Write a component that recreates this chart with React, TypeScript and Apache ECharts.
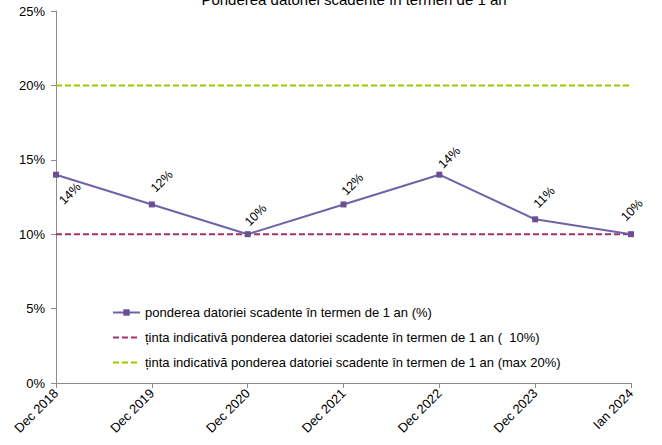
import React, { useEffect, useRef } from "react";
import * as echarts from "echarts";

const categories = ["Dec 2018", "Dec 2019", "Dec 2020", "Dec 2021", "Dec 2022", "Dec 2023", "Ian 2024"];
const pondereaValues = [14, 12, 10, 12, 14, 11, 10];
const tintaMin = [10, 10, 10, 10, 10, 10, 10];
const tintaMax = [20, 20, 20, 20, 20, 20, 20];
const yTicks = [0, 5, 10, 15, 20, 25];

const chartTitle = "Ponderea datoriei scadente în termen de 1 an";
const seriesNames = [
  "ponderea datoriei scadente în termen de 1 an (%)",
  "ținta indicativă ponderea datoriei scadente în termen de 1 an (  10%)",
  "ținta indicativă ponderea datoriei scadente în termen de 1 an (max 20%)",
];

const FONT = "'Liberation Sans', Arial, sans-serif";

// convert a screen offset into the rotated (45deg) label frame
function rotOffset(dx: number, dy: number): [number, number] {
  const k = Math.SQRT1_2;
  return [(dx - dy) * k, (dx + dy) * k];
}

export default function App() {
  const ref = useRef<HTMLDivElement>(null);
  useEffect(() => {
    if (!ref.current) return;
    const chart = echarts.init(ref.current, undefined, { renderer: "svg" });
    const labelScreenOffsets: [number, number][] = [
      [14, 19],
      [10, -23],
      [8, -19],
      [9, -20],
      [10, -17],
      [9, -22],
      [1, -24],
    ];
    chart.setOption({
      animation: false,
      textStyle: { fontFamily: FONT },
      graphic: [
        {
          type: "text",
          x: 354,
          y: 7,
          silent: true,
          style: {
            text: chartTitle,
            fontSize: 15,
            fontFamily: FONT,
            fill: "#000",
            align: "center",
            verticalAlign: "bottom",
          },
        },
      ],
      grid: { left: 56, right: 31, top: 11, bottom: 62, containLabel: false },
      legend: {
        orient: "vertical",
        left: 107,
        top: 300,
        itemWidth: 27,
        itemHeight: 8,
        itemGap: 10,
        textStyle: { fontSize: 13, lineHeight: 15, color: "#000", fontFamily: FONT },
        data: [
          { name: seriesNames[0] },
          { name: seriesNames[1], itemStyle: { opacity: 0 } },
          { name: seriesNames[2], itemStyle: { opacity: 0 } },
        ],
      },
      xAxis: {
        type: "category",
        data: categories,
        boundaryGap: false,
        axisLine: { lineStyle: { color: "#8c8c8c" } },
        axisTick: { show: true, length: 5, lineStyle: { color: "#8c8c8c" } },
        axisLabel: { rotate: 45, fontSize: 13, color: "#000", margin: 8, fontFamily: FONT },
        splitLine: { show: false },
      },
      yAxis: {
        type: "value",
        min: yTicks[0],
        max: yTicks[yTicks.length - 1],
        interval: 5,
        axisLine: { show: true, lineStyle: { color: "#8c8c8c" } },
        axisTick: { show: true, length: 5, lineStyle: { color: "#8c8c8c" } },
        axisLabel: { formatter: "{value}%", fontSize: 13, color: "#000", margin: 11, fontFamily: FONT },
        splitLine: { show: false },
      },
      series: [
        {
          name: seriesNames[0],
          type: "line",
          data: pondereaValues.map((v, i) => ({
            value: v,
            label: { offset: rotOffset(labelScreenOffsets[i][0], labelScreenOffsets[i][1]) },
          })),
          symbol: "rect",
          symbolSize: 6,
          lineStyle: { color: "#6C64A6", width: 2 },
          itemStyle: { color: "#6B4E94" },
          label: {
            show: true,
            position: "inside",
            rotate: 45,
            align: "center",
            verticalAlign: "middle",
            formatter: "{c}%",
            fontSize: 12.5,
            color: "#000",
            fontFamily: FONT,
          },
          z: 3,
        },
        {
          name: seriesNames[1],
          type: "line",
          data: tintaMin,
          symbol: "none",
          lineStyle: { color: "#9E336F", width: 2, type: [6, 3] },
          itemStyle: { color: "#9E336F" },
          z: 1,
        },
        {
          name: seriesNames[2],
          type: "line",
          data: tintaMax,
          symbol: "none",
          lineStyle: { color: "#99CC00", width: 2, type: [6, 3] },
          itemStyle: { color: "#99CC00" },
          z: 1,
        },
      ],
    });
    return () => chart.dispose();
  }, []);
  return <div ref={ref} style={{ width: 662, height: 445, position: "absolute", left: 0, top: 0 }} />;
}
